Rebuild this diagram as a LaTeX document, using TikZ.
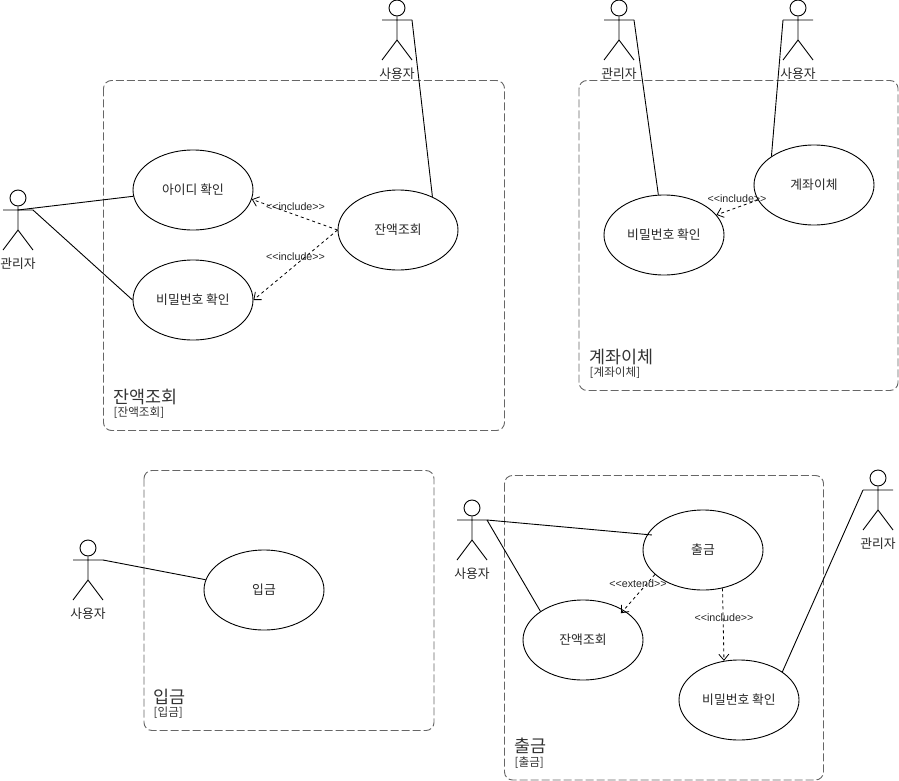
\documentclass[tikz,border=0pt]{standalone}
\usepackage{fontspec}
\setmainfont{Noto Sans CJK KR}
\newfontfamily\latinfont{Liberation Sans}
\usetikzlibrary{shapes.geometric,arrows.meta}
\definecolor{boxgray}{HTML}{666666}
\definecolor{titlegray}{HTML}{333333}
\tikzset{
  boundary/.style={draw=boxgray,line width=0.9pt,dash pattern=on 8pt off 3pt,rounded corners=8pt},
  usecase/.style={draw=black,ellipse,minimum width=120pt,minimum height=80pt,inner sep=0pt,line width=0.9pt,font=\fontsize{12.8}{14}\selectfont,text=black!85},
  actorline/.style={draw=black,line width=0.9pt},
  actorlabel/.style={inner sep=0pt,font=\fontsize{12.8}{14}\selectfont,text=black!85},
  assoc/.style={draw=black,line width=0.9pt},
  dep/.style={draw=black,line width=0.8pt,dash pattern=on 3pt off 3pt,-{Straight Barb[length=6pt,width=10pt]}},
  deplabel/.style={inner sep=0pt,font=\latinfont\fontsize{10.7}{12}\selectfont,text=black!85},
  boxtitle/.style={anchor=west,inner sep=0pt,font=\fontsize{17.4}{20}\selectfont,text=black!80},
  boxsub/.style={anchor=west,inner sep=0pt,font=\fontsize{11.6}{13}\selectfont,text=titlegray}
}
% name, head x, head y, label
\newcommand{\umlactor}[4]{%
  \node[draw=black,circle,minimum size=16pt,inner sep=0pt,line width=0.9pt] (#1-head) at (#2,#3) {};
  \coordinate (#1-l) at (#2-15,#3+12);
  \coordinate (#1-r) at (#2+15,#3+12);
  \coordinate (#1-c) at (#2,#3+12);
  \coordinate (#1-hip) at (#2,#3+32);
  \coordinate (#1-fl) at (#2-15,#3+52);
  \coordinate (#1-fr) at (#2+15,#3+52);
  \draw[actorline] (#1-head.south) -- (#1-hip) (#1-l) -- (#1-r) (#1-fl) -- (#1-hip) -- (#1-fr);
  \node[actorlabel] (#1) at (#2,#3+65.5) {#4};
}
\begin{document}
\begin{tikzpicture}[x=1pt,y=-1pt]
\useasboundingbox (0,0) rectangle (899,781);
% boundaries
\draw[boundary] (103.5,80.5) rectangle (504.5,430.5);
\draw[boundary] (579,80.5) rectangle (898,390.5);
\draw[boundary] (144,470.5) rectangle (434,730.5);
\draw[boundary] (504.5,475.5) rectangle (823.5,780);
% titles
\node[boxtitle] (t1) at (113.5,397) {잔액조회};
\node[boxsub] (s1) at (113.5,412.5) {[잔액조회]};
\node[boxtitle] (t2) at (589.5,357) {계좌이체};
\node[boxsub] (s2) at (589.5,372.5) {[계좌이체]};
\node[boxtitle] (t3) at (153.5,697) {입금};
\node[boxsub] (s3) at (153.5,713) {[입금]};
\node[boxtitle] (t4) at (514.5,746) {출금};
\node[boxsub] (s4) at (514.5,762.5) {[출금]};
% group A
\umlactor{aAdmin}{18}{198}{관리자}
\umlactor{aUser}{397}{8}{사용자}
\node[usecase] (aId) at (193,190) {아이디 확인};
\node[usecase] (aPw) at (193,300) {비밀번호 확인};
\node[usecase] (aBal) at (398,230) {잔액조회};
\draw[assoc] (aAdmin-c) -- (aId.186.8);
\draw[assoc] (aAdmin-r) -- (aPw.west);
\draw[assoc] (aUser-r) -- (aBal.44.1);
\draw[dep] (aBal.west) -- (aId.-9.6);
\draw[dep] (aBal.west) -- (aPw.east);
\node[deplabel] (la1) at (295.5,206.5) {<{}<include>{}>};
\node[deplabel] (la2) at (295.5,256.5) {<{}<include>{}>};
% group B
\umlactor{bAdmin}{619}{8}{관리자}
\umlactor{bUser}{798}{8}{사용자}
\node[usecase] (bPw) at (664,235) {비밀번호 확인};
\node[usecase] (bTr) at (814,185) {계좌이체};
\draw[assoc] (bAdmin-r) -- (bPw.98.5);
\draw[assoc] (bUser-l) -- (bTr.146.3);
\draw[dep] (bTr.195.5) -- (bPw.21);
\node[deplabel] (lb1) at (737,198.5) {<{}<include>{}>};
% group C
\umlactor{cUser}{88}{548}{사용자}
\node[usecase] (cIn) at (264,590) {입금};
\draw[assoc] (cUser-r) -- (cIn.170.2);
% group D
\umlactor{dUser}{472}{508}{사용자}
\umlactor{dAdmin}{878}{478}{관리자}
\node[usecase] (dOut) at (703,550) {출금};
\node[usecase] (dBal) at (583,640) {잔액조회};
\node[usecase] (dPw) at (739,700) {비밀번호 확인};
\draw[assoc] (dUser-r) -- ([xshift=5pt]dOut.165.5);
\draw[assoc] (dUser-r) -- (dBal.146.3);
\draw[assoc] (dAdmin-l) -- (dPw.33.7);
\draw[dep] (dOut.207.6) -- ([shift={(-3pt,-3pt)}]dBal.36);
\draw[dep] (dOut.-63.4) -- (dPw.111);
\node[deplabel] (ld1) at (638,583.5) {<{}<extend>{}>};
\node[deplabel] (ld2) at (724,617.5) {<{}<include>{}>};
\end{tikzpicture}
\end{document}
